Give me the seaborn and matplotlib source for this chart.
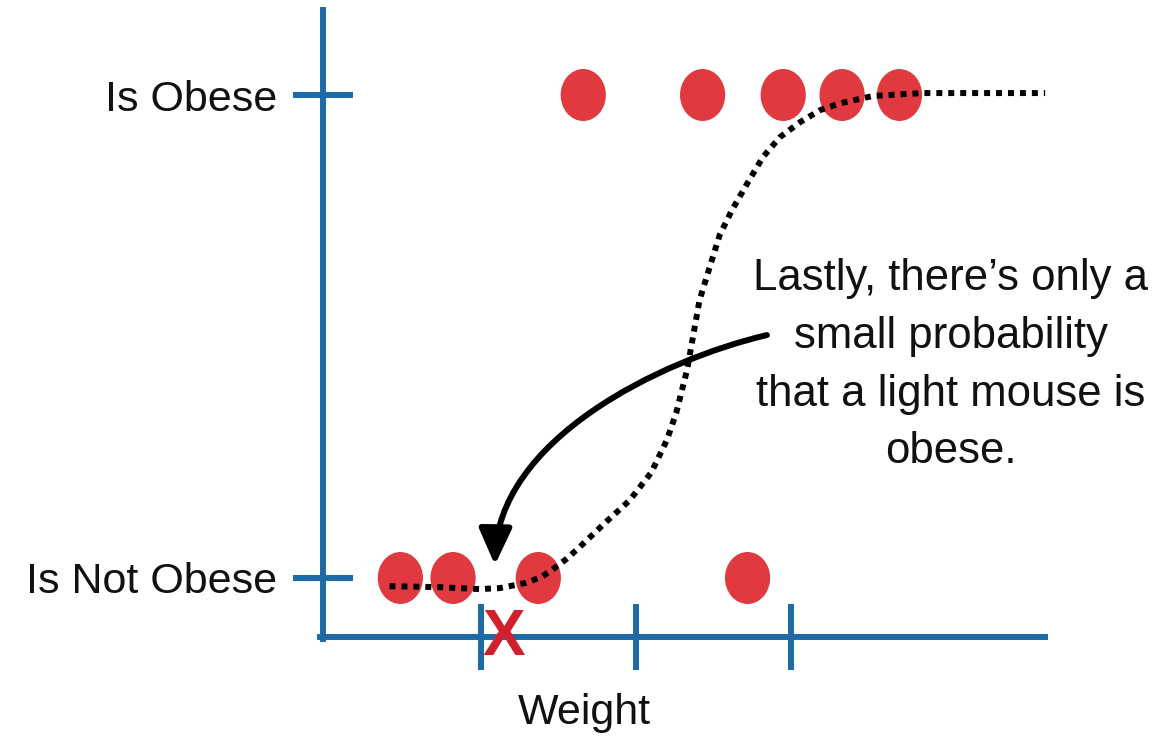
import numpy as np
import pandas as pd
import matplotlib
matplotlib.use("Agg")
import matplotlib.pyplot as plt
import seaborn as sns
from matplotlib.path import Path
from matplotlib.patches import FancyArrowPatch
from matplotlib.transforms import Affine2D

# --- data -------------------------------------------------------------
class_labels = ["Is Not Obese", "Is Obese"]
not_obese_weight = [0.48, 0.82, 1.37, 2.72]
obese_weight = [1.66, 2.43, 2.95, 3.33, 3.70]
weight_ticks = [1, 2, 3]

# logistic curve traced through the weight range
curve_weight = [0.41, 0.74, 0.99, 1.12, 1.23, 1.29, 1.39, 1.46, 1.55, 1.63,
                1.80, 1.96, 2.10, 2.20, 2.26, 2.33, 2.37, 2.41, 2.48, 2.54,
                2.62, 2.72, 2.82, 2.93, 3.06, 3.19, 3.32, 3.53, 3.85, 4.64]
curve_prob = [-0.017, -0.019, -0.023, -0.021, -0.014, -0.010, 0.002, 0.017,
              0.039, 0.062, 0.114, 0.161, 0.219, 0.286, 0.342, 0.431, 0.503,
              0.575, 0.648, 0.710, 0.762, 0.818, 0.872, 0.913, 0.944, 0.969,
              0.983, 0.998, 1.004, 1.004]

light_mouse_weight = 1.15   # the new light mouse marked with an X
note = "Lastly, there\u2019s only a\nsmall probability\nthat a light mouse is\nobese."

# --- style -------------------------------------------------------------
BLUE = "#1D6BA6"
RED = "#E0393F"
XRED = "#D21F2C"

sns.set_theme(style="white")
plt.rcParams["font.family"] = ["Liberation Sans", "DejaVu Sans"]

fig = plt.figure(figsize=(11.6, 7.41), dpi=100)
ax = fig.add_axes([0, 0, 1, 1])
ax.set_xlim(-2.103, 5.381)
ax.set_ylim(-0.3375, 1.1967)

points = pd.DataFrame({
    "weight": not_obese_weight + obese_weight,
    "obese": [0] * len(not_obese_weight) + [1] * len(obese_weight),
})

# slightly tall ellipse marker for the mice
circle = Path.unit_circle()
ellipse = Affine2D().scale(0.87, 1.0).transform_path(circle)

sns.scatterplot(data=points, x="weight", y="obese", ax=ax, marker=ellipse,
                s=1400, color=RED, edgecolor="none", linewidth=0, zorder=2,
                legend=False)

curve = pd.DataFrame({"weight": curve_weight, "prob": curve_prob})
sns.lineplot(data=curve, x="weight", y="prob", ax=ax, sort=False,
             color="black", linewidth=4.3, linestyle=(0, (1, 1)),
             dash_capstyle="butt", zorder=3)

# --- axes lines and ticks ----------------------------------------------
for side in ["top", "right"]:
    ax.spines[side].set_visible(False)
ax.spines["left"].set_position(("data", -0.021))
ax.spines["bottom"].set_position(("data", -0.122))
ax.spines["left"].set_bounds(-0.127, 1.175)
ax.spines["bottom"].set_bounds(-0.040, 4.64)
for side in ["left", "bottom"]:
    ax.spines[side].set_color(BLUE)
    ax.spines[side].set_linewidth(4.3)
    ax.spines[side].set_zorder(1)

ax.set_yticks([0, 1])
ax.set_yticklabels(class_labels)
ax.set_xticks(weight_ticks)
ax.set_xticklabels([])
ax.tick_params(axis="y", left=True, direction="inout", length=42.5,
               width=4.3, color=BLUE, pad=11.5, labelsize=31,
               labelcolor="#111111")
ax.tick_params(axis="x", bottom=True, direction="inout", length=48,
               width=4.3, color=BLUE)
ax.set_ylabel("")
ax.set_xlabel("Weight", fontsize=31, color="#111111")
ax.xaxis.set_label_coords(0.5035, 0.065)
ax.xaxis.label.set_va("top")

# --- annotations -------------------------------------------------------
ax.text(light_mouse_weight, -0.124, "X", color=XRED, fontsize=46,
        fontweight="bold", ha="center", va="center",
        family=["Liberation Sans Narrow", "Liberation Sans"], zorder=4)

ax.text(4.03, 0.662, note, fontsize=31.5, color="#111111", ha="center",
        va="top", multialignment="center", linespacing=1.52, zorder=4)

arrow_path = Path(
    [(2.845, 0.503), (2.155, 0.451), (1.103, 0.286), (1.090, 0.027)],
    [Path.MOVETO, Path.CURVE4, Path.CURVE4, Path.CURVE4],
)
arrow = FancyArrowPatch(path=arrow_path,
                        arrowstyle="-|>,head_length=1.1,head_width=0.5",
                        mutation_scale=20, color="black", linewidth=4.3,
                        zorder=5)
ax.add_patch(arrow)

fig.savefig("out.png", dpi=100, facecolor="white")
